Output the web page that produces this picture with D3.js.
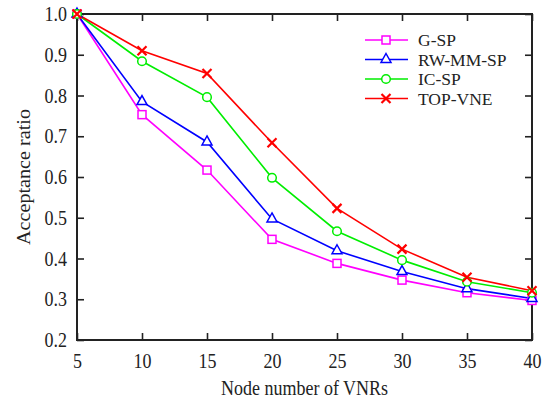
<!DOCTYPE html>
<html>
<head>
<meta charset="utf-8">
<script src="https://cdn.jsdelivr.net/npm/d3@7"></script>
<style>
  body { margin: 0; background: #fff; }
  svg text { font-family: "Liberation Serif", "Times New Roman", serif; fill: #222; }
  svg text.tall { transform-box: fill-box; transform-origin: center; transform: scaleY(1.12); }
</style>
</head>
<body>
<svg id="chart" width="546" height="398"></svg>
<script>
// data
const nodeNumbers = [5, 10, 15, 20, 25, 30, 35, 40];
const gsp     = [1.0, 0.753, 0.617, 0.447, 0.388, 0.347, 0.316, 0.297];
const rwmmsp  = [1.0, 0.785, 0.686, 0.497, 0.419, 0.368, 0.326, 0.302];
const icsp    = [1.0, 0.884, 0.796, 0.598, 0.467, 0.396, 0.343, 0.316];
const topvne  = [1.0, 0.910, 0.854, 0.684, 0.523, 0.423, 0.354, 0.321];
const seriesNames = ['G-SP', 'RW-MM-SP', 'IC-SP', 'TOP-VNE'];
const yTicks = [0.2, 0.3, 0.4, 0.5, 0.6, 0.7, 0.8, 0.9, 1.0];

const series = [
    {name: seriesNames[0], values: gsp,    color: '#ff00ff', marker: 'square'},
    {name: seriesNames[1], values: rwmmsp, color: '#0000ff', marker: 'triangle'},
    {name: seriesNames[2], values: icsp,   color: '#00ee00', marker: 'circle'},
    {name: seriesNames[3], values: topvne, color: '#ff0000', marker: 'cross'}
];

const margin = {left: 77, right: 14, top: 14, bottom: 58};
const width = 546, height = 398;

const svg = d3.select('#chart');

const x = d3.scaleLinear().domain([5, 40]).range([margin.left, width - margin.right]);
const y = d3.scaleLinear().domain([0.2, 1.0]).range([height - margin.bottom, margin.top]);

const tickLen = 7;

// axes on all four sides, ticks pointing inward
let bottomAxis = d3.axisBottom(x).tickValues(nodeNumbers).tickSize(-tickLen).tickPadding(14).tickFormat(d3.format('d'));
let gB = svg.append('g').attr('transform', `translate(0,${y(0.2)})`).call(bottomAxis);
let gT = svg.append('g').attr('transform', `translate(0,${y(1.0)})`).call(d3.axisTop(x).tickValues(nodeNumbers).tickSize(-tickLen).tickFormat(''));
let gL = svg.append('g').attr('transform', `translate(${x(5)},0)`).call(d3.axisLeft(y).tickValues(yTicks).tickSize(-tickLen).tickPadding(10).tickFormat(d3.format('.1f')));
let gR = svg.append('g').attr('transform', `translate(${x(40)},0)`).call(d3.axisRight(y).tickValues(yTicks).tickSize(-tickLen).tickFormat(''));

for (let g of [gB, gT, gL, gR]) {
    g.select('.domain').remove();
    g.selectAll('line').attr('stroke', '#222').attr('stroke-width', 1.6);
    g.selectAll('text').attr('class', 'tall').attr('font-size', 18).attr('fill', '#222').style('font-family', '"Liberation Serif", serif');
}

svg.append('rect')
    .attr('x', x(5)).attr('y', y(1.0))
    .attr('width', x(40) - x(5)).attr('height', y(0.2) - y(1.0))
    .attr('fill', 'none').attr('stroke', '#222').attr('stroke-width', 2);

// axis titles
svg.append('text')
    .attr('class', 'tall')
    .attr('x', (x(5) + x(40)) / 2).attr('y', 394)
    .attr('text-anchor', 'middle').attr('font-size', 18)
    .text('Node number of VNRs');

svg.append('text')
    .attr('transform', `translate(30,${(y(0.2) + y(1.0)) / 2}) rotate(-90) scale(1.12,1)`)
    .attr('text-anchor', 'middle').attr('font-size', 18)
    .text('Acceptance ratio');

function drawMarker(g, type, color) {
    if (type === 'square') {
        g.append('rect').attr('x', -4).attr('y', -4).attr('width', 8).attr('height', 8)
            .attr('fill', '#fff').attr('stroke', color).attr('stroke-width', 1.5);
    } else if (type === 'triangle') {
        g.append('path').attr('d', 'M0,-6L5,3L-5,3Z')
            .attr('fill', '#fff').attr('stroke', color).attr('stroke-width', 1.5);
    } else if (type === 'circle') {
        g.append('circle').attr('r', 4.3)
            .attr('fill', '#fff').attr('stroke', color).attr('stroke-width', 1.5);
    } else {
        g.append('path').attr('d', 'M-4.5,-4.5L4.5,4.5M-4.5,4.5L4.5,-4.5')
            .attr('fill', 'none').attr('stroke', color).attr('stroke-width', 2.2);
    }
}

const line = d3.line().x((d, i) => x(nodeNumbers[i])).y(d => y(d));

for (let s of series) {
    svg.append('path')
        .datum(s.values)
        .attr('d', line)
        .attr('fill', 'none')
        .attr('stroke', s.color)
        .attr('stroke-width', 1.6);
}
for (let s of series) {
    s.values.forEach((v, i) => {
        let g = svg.append('g').attr('transform', `translate(${x(nodeNumbers[i])},${y(v)})`);
        drawMarker(g, s.marker, s.color);
    });
}

// legend
const legend = svg.append('g').attr('transform', 'translate(365,40)');
series.forEach((s, i) => {
    let row = legend.append('g').attr('transform', `translate(0,${i * 19.5})`);
    row.append('line').attr('x1', 0).attr('x2', 43).attr('y1', 0).attr('y2', 0)
        .attr('stroke', s.color).attr('stroke-width', 1.6);
    drawMarker(row.append('g').attr('transform', 'translate(21,0)'), s.marker, s.color);
    row.append('text').attr('x', 53).attr('y', 6).attr('font-size', 17.5).text(s.name);
});
</script>
</body>
</html>
